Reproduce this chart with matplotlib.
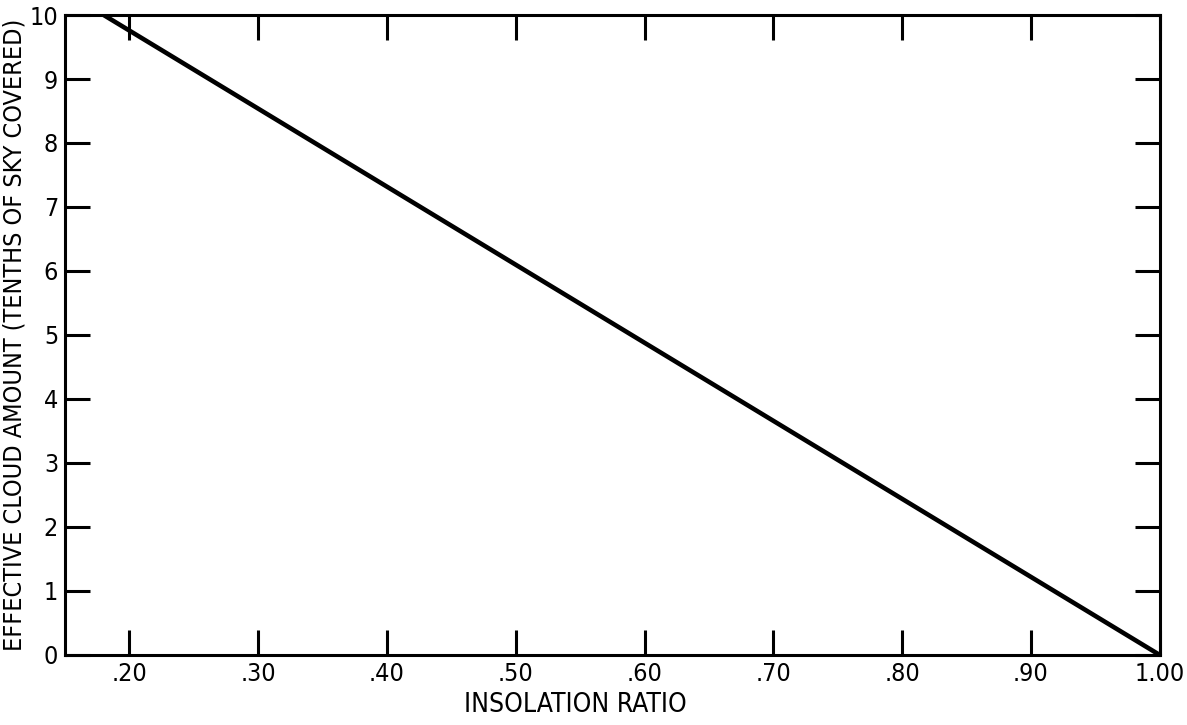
import numpy as np
import matplotlib.pyplot as plt

# insolation ratio vs effective cloud amount (straight line)
ratio = [0.18, 1.00]
cloud = [10, 0]

x_ticks = [0.20, 0.30, 0.40, 0.50, 0.60, 0.70, 0.80, 0.90, 1.00]
x_labels = ['.20', '.30', '.40', '.50', '.60', '.70', '.80', '.90', '1.00']
y_ticks = [0, 1, 2, 3, 4, 5, 6, 7, 8, 9, 10]

plt.rcParams['font.family'] = ['DejaVu Sans']
plt.rcParams['font.stretch'] = 'condensed'

fig = plt.figure(figsize=(11.87, 7.25), dpi=100)
ax = fig.add_axes([0.0548, 0.0966, 0.9222, 0.8827])

ax.plot(ratio, cloud, color='black', lw=3.3, solid_capstyle='butt')

ax.set_xlim(0.15, 1.00)
ax.set_ylim(0, 10)
ax.set_xticks(x_ticks)
ax.set_xticklabels(x_labels)
ax.set_yticks(y_ticks)
ax.tick_params(direction='in', length=18, width=2.2, labelsize=18, pad=5,
               top=True, right=True, color='black')
for s in ax.spines.values():
    s.set_linewidth(2.2)

ax.set_xlabel('INSOLATION RATIO', fontsize=19, labelpad=4)
ax.xaxis.set_label_coords(0.466, -0.058)
ax.set_ylabel('EFFECTIVE CLOUD AMOUNT (TENTHS OF SKY COVERED)', fontsize=18, labelpad=2)

fig.savefig('out.png', dpi=100)
